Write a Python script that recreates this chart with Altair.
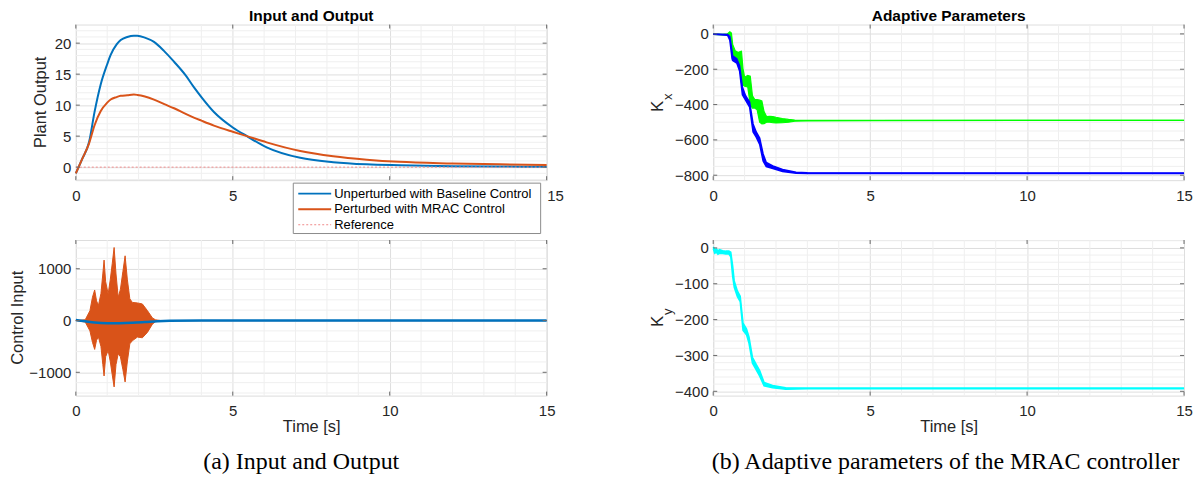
import altair as alt
import pandas as pd

# ---------------- data ----------------
# Top-left: plant output
t_out = [0, 0.2, 0.42, 0.6, 0.79, 1.0, 1.11, 1.3, 1.43, 1.64, 1.85, 1.96, 2.2, 2.49, 2.8,
         3.13, 3.5, 3.76, 4.0, 4.4, 5.0, 5.45, 6.08, 7.15, 8.2, 9.27, 10.3, 12, 13.5, 15]
y_baseline = [-1, 1.3, 4.0, 9.0, 13.3, 16.6, 18.1, 19.8, 20.5, 21.0, 21.2, 21.2, 20.9, 20.2, 18.8,
              17.0, 14.8, 12.9, 11.3, 8.9, 6.4, 5.0, 3.2, 1.5, 0.8, 0.45, 0.3, 0.15, 0.1, 0.05]
y_mrac = [-1, 1.3, 3.8, 6.8, 9.0, 10.4, 10.9, 11.3, 11.5, 11.6, 11.7, 11.65, 11.4, 10.9, 10.2,
          9.5, 8.6, 8.0, 7.5, 6.7, 5.7, 5.0, 4.0, 2.6, 1.75, 1.2, 0.85, 0.6, 0.45, 0.35]
t_ref = [0, 15]
y_ref = [0, 0]

series_names = ["Unperturbed with Baseline Control", "Perturbed with MRAC Control", "Reference"]
series_colors = ["#0072BD", "#D95319", "#F08A8A"]

# Bottom-left: control input (MRAC shown as its oscillation envelope)
t_u = [0, 0.3, 0.45, 0.53, 0.6, 0.66, 0.72, 0.8, 0.86, 0.9, 0.95, 1.03, 1.1, 1.16, 1.22, 1.28,
       1.35, 1.42, 1.5, 1.57, 1.64, 1.72, 1.8, 1.96, 2.12, 2.28, 2.44, 2.54, 2.7, 15]
u_mrac_hi = [0, 15, 190, 450, 590, 380, 290, 520, 900, 1167, 750, 513, 800, 1100, 1410, 900,
             450, 600, 950, 1250, 800, 420, 350, 340, 320, 192, 50, 13, 0, 0]
u_mrac_lo = [0, -30, -200, -420, -558, -380, -320, -500, -850, -1071, -700, -577, -800, -1050, -1282, -850,
             -641, -700, -950, -1186, -800, -450, -391, -320, -333, -230, -70, -20, 0, 0]
t_ub = [0, 0.3, 0.6, 1.0, 1.4, 1.8, 2.2, 2.6, 3.0, 4.0, 15]
u_base = [10, -15, -40, -52, -52, -45, -30, -13, -5, 0, 0]

# Top-right: Kx (green and blue components, oscillation envelopes)
t_kxg = [0, 0.3, 0.45, 0.53, 0.58, 0.62, 0.7, 0.8, 0.86, 0.9, 0.95, 1.0, 1.1, 1.18, 1.25, 1.32,
         1.4, 1.48, 1.55, 1.62, 1.7, 1.8, 1.9, 2.0, 2.2, 2.4, 2.6, 3.0, 5, 10, 15]
kxg_hi = [0, -2, 0, 12, 5, -60, -95, -105, -100, -98, -200, -245, -235, -240, -350, -370,
          -372, -375, -380, -440, -468, -467, -468, -472, -479, -484, -488, -489, -489, -489, -489]
kxg_lo = [-3, -6, -6, -6, -60, -145, -150, -158, -200, -280, -290, -296, -300, -400, -420, -420,
          -430, -500, -510, -508, -500, -500, -503, -504, -503, -500, -494, -492, -491, -490, -490]
t_kxb = [0, 0.46, 0.53, 0.6, 0.62, 0.75, 0.84, 0.93, 1.03, 1.16, 1.27, 1.37, 1.48, 1.59, 1.69,
         1.9, 2.21, 2.64, 3.0, 15]
kxb_hi = [0, -3, -15, -100, -125, -140, -180, -300, -350, -385, -510, -555, -590, -680, -728,
          -747, -768, -783, -786, -788]
kxb_lo = [-2, -8, -35, -140, -150, -165, -210, -345, -375, -415, -555, -585, -625, -720, -752,
          -762, -779, -789, -790, -791]

# Bottom-right: Ky
t_ky = [0, 0.05, 0.1, 0.15, 0.2, 0.3, 0.4, 0.5, 0.56, 0.62, 0.67, 0.77, 0.86, 0.95, 1.06, 1.14,
        1.25, 1.37, 1.48, 1.62, 1.89, 2.31, 3, 15]
ky_hi = [3, -5, -3, -8, -5, -8, -9, -9, -12, -50, -92, -120, -135, -210, -226, -248,
         -305, -325, -342, -375, -384, -390, -391, -391]
ky_lo = [-2, -15, -12, -18, -15, -16, -17, -17, -25, -80, -110, -136, -150, -230, -242, -266,
         -322, -340, -358, -385, -390, -394, -393, -393]

# ticks / grid
x_major = [0, 5, 10, 15]
x_minor = [1, 2, 3, 4, 6, 7, 8, 9, 11, 12, 13, 14]
tl_major = [0, 5, 10, 15, 20]
tl_minor = [-2, -1, 1, 2, 3, 4, 6, 7, 8, 9, 11, 12, 13, 14, 16, 17, 18, 19, 21, 22]
bl_major = [-1000, 0, 1000]
bl_minor = [-1400, -1200, -800, -600, -400, -200, 200, 400, 600, 800, 1200, 1400]
tr_major = [-800, -600, -400, -200, 0]
tr_minor = [-750, -700, -650, -550, -500, -450, -350, -300, -250, -150, -100, -50, 50]
br_major = [-400, -300, -200, -100, 0]
br_minor = [-380, -360, -340, -320, -280, -260, -240, -220, -180, -160, -140, -120,
            -80, -60, -40, -20, 20]

titles = ["Input and Output", "Adaptive Parameters"]
ylabels = ["Plant Output", "Control Input"]
captions = ["(a) Input and Output", "(b) Adaptive parameters of the MRAC controller"]

# ---------------- styling ----------------
W, H = 472, 156
FONT = "Liberation Sans"
MAJOR = "#dedede"
MINOR = "#efefef"
TXT = "#262626"
TICK = "#6a6a6a"
TL_LEN = 4
one = pd.DataFrame({"k": [0]})


def X(field="t", title=None, top=False):
    extra = {}
    if top:
        # the "10" label sits under the legend box; "15" is set just right of the frame
        extra = dict(labelExpr="datum.value == 10 ? '' : datum.label",
                     labelAlign={"expr": "datum.value == 15 ? 'left' : 'center'"})
    return alt.X(f"{field}:Q", scale=alt.Scale(domain=[0, 15], nice=False, zero=False),
                 axis=alt.Axis(values=x_major, grid=True, gridColor=MAJOR, tickSize=0, domain=False,
                               format="d", labelFlush=False, labelPadding=8, labelFontSize=15,
                               labelColor=TXT, labelFont=FONT, titleFont=FONT, titleFontSize=16.5,
                               titleFontWeight="normal", titleColor=TXT, titlePadding=0, **extra),
                 title=title)


def Y(field, domain, major):
    return alt.Y(f"{field}:Q", scale=alt.Scale(domain=domain, nice=False, zero=False),
                 axis=alt.Axis(values=major, grid=True, gridColor=MAJOR, tickSize=0, domain=False,
                               format="d", labelPadding=5, labelFontSize=15, labelColor=TXT,
                               labelFont=FONT),
                 title=None)


def grid_layers(domain, major, minor, xtitle=None, top=False):
    gx = alt.Chart(pd.DataFrame({"t": x_minor})).mark_rule(color=MINOR, strokeWidth=1).encode(
        x=X("t", xtitle, top))
    gy = alt.Chart(pd.DataFrame({"v": minor})).mark_rule(color=MINOR, strokeWidth=1).encode(
        y=Y("v", domain, major))
    return [gx, gy]


def inward_ticks(domain, major, xtitle=None, top=False):
    """MATLAB-style short tick marks drawn inside the box on all four sides."""
    dx = pd.DataFrame({"t": x_major})
    dy = pd.DataFrame({"v": major})
    out = []
    for y0, y1 in ((H, H - TL_LEN), (0, TL_LEN)):
        out.append(alt.Chart(dx).mark_rule(color=TICK, strokeWidth=1).encode(
            x=X("t", xtitle, top), y=alt.value(y0), y2=alt.value(y1)))
    for x0, x1 in ((0, TL_LEN), (W, W - TL_LEN)):
        out.append(alt.Chart(dy).mark_rule(color=TICK, strokeWidth=1).encode(
            y=Y("v", domain, major), x=alt.value(x0), x2=alt.value(x1)))
    return out


def band(t, hi, lo, color, domain, major, xtitle=None, sw=1.2):
    df = pd.DataFrame({"t": t, "hi": hi, "lo": lo})
    area = alt.Chart(df).mark_area(color=color, opacity=1).encode(
        x=X("t", xtitle), y=Y("hi", domain, major), y2="lo:Q")
    l1 = alt.Chart(df).mark_line(color=color, strokeWidth=sw).encode(
        x=X("t", xtitle), y=Y("hi", domain, major))
    l2 = alt.Chart(df).mark_line(color=color, strokeWidth=sw).encode(
        x=X("t", xtitle), y=Y("lo", domain, major))
    return [area, l1, l2]


def text_mark(txt, x, y, size, **kw):
    return alt.Chart(pd.DataFrame({"s": [txt]})).mark_text(fontSize=size, **kw).encode(
        x=alt.value(x), y=alt.value(y), text="s:N")


def panel_title(txt):
    return text_mark(txt, W / 2, -4, 15.5, font=FONT, fontWeight="bold", color="#000000",
                     align="center", baseline="alphabetic")


def ylabel(txt, x):
    return text_mark(txt, x, H / 2, 16.5, font=FONT, color=TXT, angle=270,
                     align="center", baseline="alphabetic")


def caption(txt, x):
    return text_mark(txt, x, 223, 24, font="Liberation Serif", color="#000000",
                     align="center", baseline="middle")


# ---------------- top-left ----------------
TL_DOM = [-2.1, 23]
tl_layers = grid_layers(TL_DOM, tl_major, tl_minor, None, True)
df_out = pd.DataFrame({"t": t_out, "base": y_baseline, "mrac": y_mrac})
tl_layers.append(alt.Chart(df_out).mark_line(color=series_colors[0], strokeWidth=2,
                                             interpolate="monotone").encode(
    x=X(top=True), y=Y("base", TL_DOM, tl_major)))
tl_layers.append(alt.Chart(df_out).mark_line(color=series_colors[1], strokeWidth=2,
                                             interpolate="monotone").encode(
    x=X(top=True), y=Y("mrac", TL_DOM, tl_major)))
tl_layers.append(alt.Chart(pd.DataFrame({"t": t_ref, "r": y_ref})).mark_line(
    color=series_colors[2], strokeWidth=1, strokeDash=[2, 2]).encode(
    x=X(top=True), y=Y("r", TL_DOM, tl_major)))
tl_layers += inward_ticks(TL_DOM, tl_major, None, True)
tl_layers.append(panel_title(titles[0]))
tl_layers.append(ylabel(ylabels[0], -30))

# legend (drawn as marks, MATLAB style box)
tl_layers.append(alt.Chart(one).mark_rect(fill="white", stroke="#8c8c8c", strokeWidth=1).encode(
    x=alt.value(218), x2=alt.value(466), y=alt.value(159), y2=alt.value(209.5)))
for i, (name, col) in enumerate(zip(series_names, series_colors)):
    yy = 169.5 + 15.6 * i
    kw = dict(color=col, strokeWidth=2 if i < 2 else 1)
    if i == 2:
        kw["strokeDash"] = [2, 2]
    tl_layers.append(alt.Chart(one).mark_rule(**kw).encode(
        x=alt.value(223), x2=alt.value(256), y=alt.value(yy)))
    tl_layers.append(text_mark(name, 259, yy, 13, font=FONT, color="#000000",
                               align="left", baseline="middle"))

TL = alt.layer(*tl_layers).properties(width=W, height=H)

# ---------------- bottom-left ----------------
BL_DOM = [-1450, 1555]
bl_layers = grid_layers(BL_DOM, bl_major, bl_minor, "Time [s]")
bl_layers += band(t_u, u_mrac_hi, u_mrac_lo, series_colors[1], BL_DOM, bl_major, "Time [s]", sw=1)
bl_layers.append(alt.Chart(pd.DataFrame({"t": t_ub, "u": u_base})).mark_line(
    color=series_colors[0], strokeWidth=2.5, interpolate="monotone").encode(
    x=X("t", "Time [s]"), y=Y("u", BL_DOM, bl_major)))
bl_layers += inward_ticks(BL_DOM, bl_major, "Time [s]")
bl_layers.append(ylabel(ylabels[1], -52.8))
bl_layers.append(caption(captions[0], 226))
BL = alt.layer(*bl_layers).properties(width=W, height=H)

# ---------------- top-right ----------------
TR_DOM = [-828, 53]
tr_layers = grid_layers(TR_DOM, tr_major, tr_minor)
tr_layers += band(t_kxg, kxg_hi, kxg_lo, "#00FF00", TR_DOM, tr_major)
tr_layers += band(t_kxb, kxb_hi, kxb_lo, "#0000FF", TR_DOM, tr_major, sw=1.5)
tr_layers += inward_ticks(TR_DOM, tr_major)
tr_layers.append(text_mark("K", -55, 82, 16.5, font=FONT, color=TXT, angle=270,
                           align="center", baseline="middle"))
tr_layers.append(text_mark("x", -45.5, 72.5, 13, font=FONT, color=TXT, angle=270,
                           align="center", baseline="middle"))
tr_layers.append(panel_title(titles[1]))
TR = alt.layer(*tr_layers).properties(width=W, height=H)

# ---------------- bottom-right ----------------
BR_DOM = [-412, 22]
br_layers = grid_layers(BR_DOM, br_major, br_minor, "Time [s]")
br_layers += band(t_ky, ky_hi, ky_lo, "#00FFFF", BR_DOM, br_major, "Time [s]", sw=1.5)
br_layers += inward_ticks(BR_DOM, br_major, "Time [s]")
br_layers.append(text_mark("K", -55, 81.5, 16.5, font=FONT, color=TXT, angle=270,
                           align="center", baseline="middle"))
br_layers.append(text_mark("y", -45, 72, 13, font=FONT, color=TXT, angle=270,
                           align="center", baseline="middle"))
br_layers.append(caption(captions[1], 233))
BR = alt.layer(*br_layers).properties(width=W, height=H)

chart = alt.concat(TL, TR, BL, BR, columns=2, spacing={"row": 60, "column": 167},
                   bounds="flush").properties(
    padding={"left": 1, "top": -1, "right": 0, "bottom": 0}
).configure_view(stroke="#8c8c8c", strokeWidth=1).configure(background="white")

chart.save("out.html", embed_options={"renderer": "svg", "actions": False})
